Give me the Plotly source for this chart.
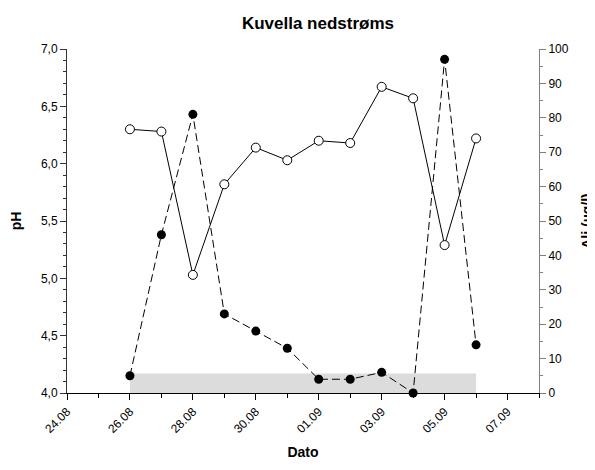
import plotly.graph_objects as go

dates = ["2024-08-26", "2024-08-27", "2024-08-28", "2024-08-29", "2024-08-30", "2024-08-31",
         "2024-09-01", "2024-09-02", "2024-09-03", "2024-09-04", "2024-09-05", "2024-09-06"]
ph_values = [6.30, 6.28, 5.03, 5.82, 6.14, 6.03, 6.20, 6.18, 6.67, 6.57, 5.29, 6.22]
ali_values = [5, 46, 81, 23, 18, 13, 4, 4, 6, 0, 97, 14]
limit_dates = ["2024-08-26", "2024-09-06"]
limit_values = [5.7, 5.7]

x_range = ["2024-08-24", "2024-09-08"]
ph_range = [4.0, 7.0]
ali_range = [0, 100]

FONT = "Liberation Sans, Arial, sans-serif"

fig = go.Figure()

fig.add_trace(go.Scatter(
    x=limit_dates, y=limit_values, yaxis="y2", mode="lines",
    line=dict(width=0, color="rgba(0,0,0,0)"), fill="tozeroy",
    fillcolor="#dcdcdc", hoverinfo="skip", showlegend=False))

fig.add_trace(go.Scatter(
    x=dates, y=ph_values, yaxis="y", mode="lines+markers", name="pH",
    line=dict(color="black", width=1),
    marker=dict(symbol="circle", size=9, color="white", line=dict(color="black", width=1)),
    cliponaxis=False, showlegend=False))

fig.add_trace(go.Scatter(
    x=dates, y=ali_values, yaxis="y2", mode="lines+markers", name="Ali",
    line=dict(color="black", width=1, dash="8px,4px"),
    marker=dict(symbol="circle", size=9, color="black"),
    cliponaxis=False, showlegend=False))

fig.update_layout(
    width=587, height=462,
    margin=dict(l=59, r=56, t=41, b=77, autoexpand=False),
    paper_bgcolor="white", plot_bgcolor="white",
    separators=",.",
    font=dict(family=FONT, size=12, color="black"),
    title=dict(text="<b>Kuvella nedstrøms</b>", x=0.528, xanchor="center",
               y=0.968, yanchor="middle", font=dict(size=17, family=FONT)),
    xaxis=dict(
        type="date", range=x_range, tickformat="%d.%m", automargin=False,
        tick0="2024-08-24", dtick=2 * 86400000, tickangle=-45,
        showgrid=False, zeroline=False, showline=True, linecolor="black", linewidth=1,
        ticks="outside", ticklen=6, tickcolor="black",
        minor=dict(dtick=86400000, ticks="outside", ticklen=4, tickcolor="black", showgrid=False),
        tickfont=dict(size=12),
        title=dict(text="<b>Dato</b>", font=dict(size=14), standoff=12),
    ),
    yaxis=dict(
        range=ph_range, dtick=0.5, tickformat=".1f", automargin=False,
        showgrid=False, zeroline=False, showline=True, linecolor="#333333", linewidth=1,
        ticks="outside", ticklen=6, tickcolor="#333333",
        minor=dict(dtick=0.1, ticks="outside", ticklen=3, tickcolor="#333333", showgrid=False),
        tickfont=dict(size=12),
        title=dict(text="<b>pH</b>", font=dict(size=14), standoff=20),
    ),
    yaxis2=dict(
        range=ali_range, dtick=10, overlaying="y", side="right", automargin=False,
        showgrid=False, zeroline=False, showline=True, linecolor="#808080", linewidth=1,
        ticks="outside", ticklen=6, tickcolor="#808080",
        minor=dict(dtick=5, ticks="outside", ticklen=3, tickcolor="#808080", showgrid=False),
        tickfont=dict(size=12),
        title=dict(text="<b>Ali (µg/l)</b>", font=dict(size=14), standoff=27),
    ),
)

fig.write_html("out.html")
